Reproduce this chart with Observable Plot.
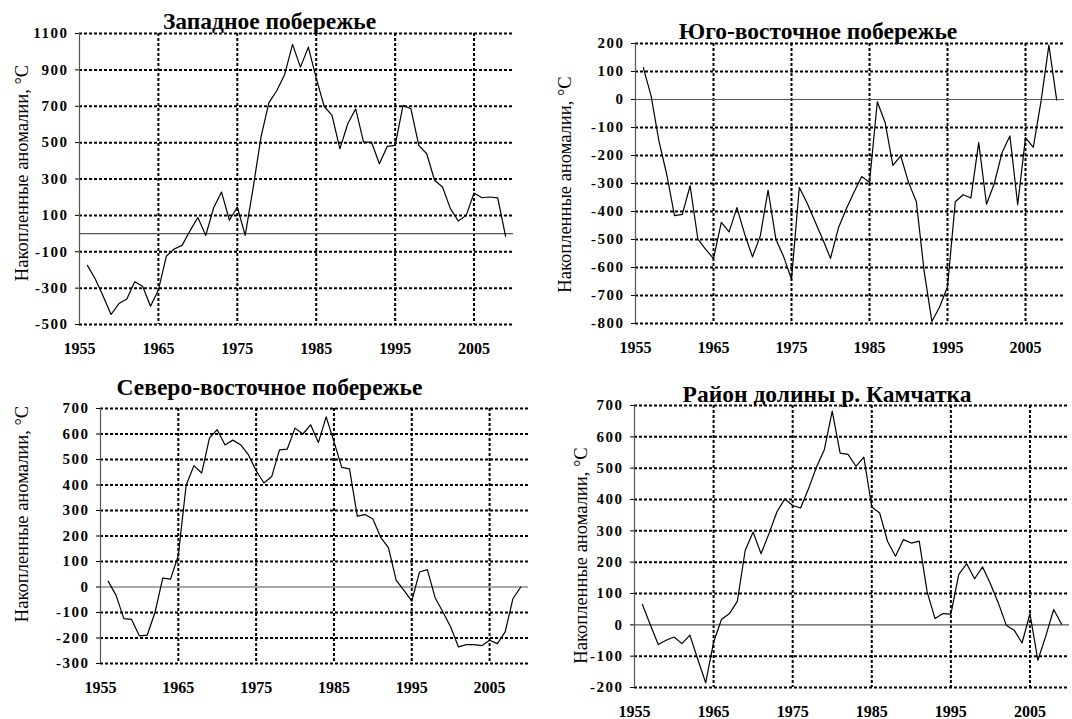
<!DOCTYPE html>
<html><head><meta charset="utf-8">
<script src="https://cdn.jsdelivr.net/npm/d3@7"></script>
<script src="https://cdn.jsdelivr.net/npm/@observablehq/plot@0.6"></script>
<style>
body{margin:0;background:#fff;}
#wrap{position:relative;width:1072px;height:719px;overflow:hidden;background:#fff;}
#wrap svg{position:absolute;overflow:visible;}
</style></head><body><div id="wrap"></div>
<script>
const years = [1956,1957,1958,1959,1960,1961,1962,1963,1964,1965,
  1966,1967,1968,1969,1970,1971,1972,1973,1974,1975,
  1976,1977,1978,1979,1980,1981,1982,1983,1984,1985,
  1986,1987,1988,1989,1990,1991,1992,1993,1994,1995,
  1996,1997,1998,1999,2000,2001,2002,2003,2004,2005,
  2006,2007,2008,2009];

const westValues = [-175,-250,-345,-445,-385,-360,-265,-290,-400,-310,
  -125,-85,-65,15,88,-10,142,228,73,146,
  -10,250,530,720,785,875,1040,915,1025,855,
  700,650,466,604,686,503,503,384,479,485,
  705,686,485,439,293,256,137,69,100,223,
  197,201,196,-15];

const southeastValues = [114,13,-148,-267,-415,-410,-308,-499,-535,-568,
  -439,-473,-386,-481,-562,-487,-324,-499,-562,-642,
  -314,-370,-435,-499,-567,-460,-392,-332,-275,-296,
  -8,-82,-235,-201,-296,-364,-612,-793,-740,-669,
  -365,-340,-352,-154,-374,-300,-189,-130,-376,-136,
  -171,-5,194,-2];

const northeastValues = [22,-33,-124,-127,-192,-189,-100,35,31,124,
  398,476,447,584,617,557,576,558,519,456,
  408,433,538,541,623,600,636,567,667,570,
  469,463,278,284,267,195,154,26,-13,-55,
  59,68,-42,-98,-157,-235,-226,-226,-230,-209,
  -222,-176,-46,0];

const kamchatkaValues = [65,0,-63,-49,-39,-60,-33,-110,-185,-55,
  17,36,75,238,296,227,291,360,402,381,
  373,434,503,559,682,548,544,506,535,376,
  357,266,219,272,261,267,105,20,36,34,
  161,195,147,185,131,70,-1,-17,-58,36,
  -113,-36,49,2];

const xTicks = [1955,1965,1975,1985,1995,2005];
const xGrid = [1965,1975,1985,1995,2005];

const westTicks = [-500,-300,-100,100,300,500,700,900,1100];
const southeastTicks = [-800,-700,-600,-500,-400,-300,-200,-100,0,100,200];
const northeastTicks = [-300,-200,-100,0,100,200,300,400,500,600,700];
const kamchatkaTicks = [-200,-100,0,100,200,300,400,500,600,700];

const titles = ["Западное побережье","Юго-восточное побережье","Северо-восточное побережье","Район долины р. Камчатка"];
const yLabel = "Накопленные аномалии, °С";

const serif = "'Liberation Serif','Times New Roman',serif";

const panels = [
  {values: westValues, ticks: westTicks, title: titles[0], left: 0, top: 0, width: 536, height: 360,
   mL: 79, mR: 23, mT: 33, mB: 36, tdx: -27, tdy: -5, ldx: -57, ldy: -6},
  {values: southeastValues, ticks: southeastTicks, title: titles[1], left: 536, top: 0, width: 536, height: 360,
   mL: 99, mR: 8, mT: 43, mB: 37, tdx: -32, tdy: -5, ldx: -70, ldy: 1},
  {values: northeastValues, ticks: northeastTicks, title: titles[2], left: 0, top: 360, width: 536, height: 359,
   mL: 100, mR: 8, mT: 48, mB: 56, tdx: -45, tdy: -14, ldx: -78, ldy: -22},
  {values: kamchatkaValues, ticks: kamchatkaTicks, title: titles[3], left: 536, top: 360, width: 536, height: 359,
   mL: 98, mR: 3, mT: 45, mB: 32, tdx: -25, tdy: -4, ldx: -53, ldy: 9}
];

const wrap = document.getElementById("wrap");

for (const p of panels) {
  const data = years.map((yr, i) => ({year: yr, value: p.values[i]}));
  const yMin = p.ticks[0], yMax = p.ticks[p.ticks.length - 1];
  const gridY = p.ticks.filter(t => t !== 0);
  const svg = Plot.plot({
    width: p.width,
    height: p.height,
    marginLeft: p.mL,
    marginRight: p.mR,
    marginTop: p.mT,
    marginBottom: p.mB,
    style: {fontFamily: serif, background: "transparent", overflow: "visible"},
    x: {type: "linear", domain: [1955, 2010], axis: null},
    y: {type: "linear", domain: [yMin, yMax], axis: null},
    marks: [
      Plot.ruleY(gridY, {stroke: "black", strokeWidth: 2, strokeDasharray: "3,2"}),
      Plot.ruleX(xGrid, {stroke: "black", strokeWidth: 2, strokeDasharray: "3,2"}),
      Plot.ruleY([0], {stroke: "#555", strokeWidth: 1.2}),
      Plot.ruleX([1955], {stroke: "#555", strokeWidth: 1.2}),
      Plot.axisY(p.ticks, {tickSize: 4, tickPadding: 7, fontSize: 15, fontWeight: "bold", fontFamily: serif, color: "black", label: null, tickFormat: d => String(d)}),
      Plot.axisX(xTicks, {tickSize: 0, tickPadding: 18, fontSize: 16, fontWeight: "bold", fontFamily: serif, color: "black", label: null, tickFormat: d => String(d)}),
      Plot.line(data, {x: "year", y: "value", stroke: "black", strokeWidth: 1.2}),
      Plot.text([p.title], {frameAnchor: "top", textAnchor: "middle", lineAnchor: "bottom", dx: p.tdx, dy: p.tdy, fontSize: 23.5, fontWeight: "bold", fontFamily: serif, fill: "black"}),
      Plot.text([yLabel], {frameAnchor: "left", textAnchor: "middle", rotate: -90, dx: p.ldx, dy: p.ldy, fontSize: 18.5, fontFamily: serif, fill: "black"})
    ]
  });
  svg.querySelectorAll('g[aria-label="y-axis tick label"] text').forEach(t => { t.style.letterSpacing = "1.5px"; });
  svg.style.position = "absolute";
  svg.style.left = p.left + "px";
  svg.style.top = p.top + "px";
  wrap.appendChild(svg);
}
</script>
</body></html>
